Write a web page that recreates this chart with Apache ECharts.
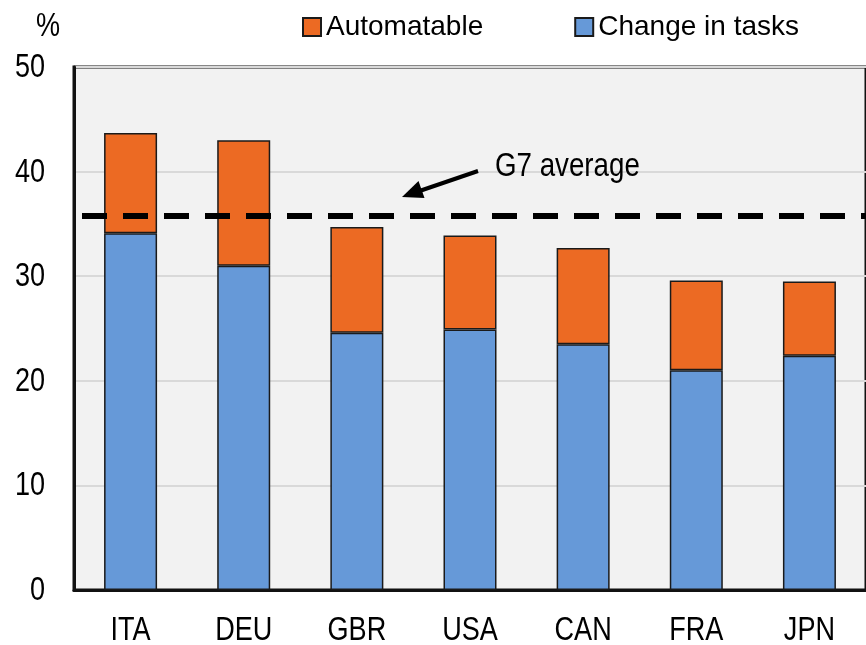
<!DOCTYPE html>
<html>
<head>
<meta charset="utf-8">
<script src="https://cdn.jsdelivr.net/npm/echarts@6/dist/echarts.min.js"></script>
<style>
html,body{margin:0;padding:0;background:#fff;}
#chart{width:866px;height:645px;}
</style>
</head>
<body>
<div id="chart"></div>
<script>
const categories = ['ITA', 'DEU', 'GBR', 'USA', 'CAN', 'FRA', 'JPN'];
const changeInTasks = [34.1, 31.0, 24.6, 24.9, 23.5, 21.0, 22.4];
const automatable = [9.6, 12.0, 10.1, 9.0, 9.2, 8.6, 7.1];
const g7Average = 35.8;
const yTicks = [0, 10, 20, 30, 40, 50];
const seriesNames = ['Automatable', 'Change in tasks'];
const unitLabel = '%';
const annotationText = 'G7 average';

const FONT = '"Liberation Sans", Arial, sans-serif';
const NARROW = 0.82;   // reference uses a condensed face
const chart = echarts.init(document.getElementById('chart'), null, {renderer: 'canvas'});

const option = {
  animation: false,
  backgroundColor: '#ffffff',
  textStyle: {fontFamily: FONT},
  legend: {
    data: seriesNames,
    left: 297,
    top: 8,
    itemWidth: 18,
    itemHeight: 18,
    itemGap: 91,
    icon: 'rect',
    textStyle: {fontFamily: FONT, fontSize: 28, color: '#000'}
  },
  grid: {
    left: 74,
    top: 67,
    right: -10,
    bottom: 55,
    show: true,
    backgroundColor: '#f2f2f2',
    borderColor: '#111',
    borderWidth: 3
  },
  xAxis: {
    type: 'category',
    data: categories,
    axisLine: {show: true, lineStyle: {color: '#111', width: 3}},
    axisTick: {show: false},
    axisLabel: {show: false}
  },
  yAxis: {
    type: 'value',
    min: yTicks[0],
    max: yTicks[yTicks.length - 1],
    interval: 10,
    axisLine: {show: true, lineStyle: {color: '#111', width: 3}},
    axisTick: {show: false},
    axisLabel: {show: false},
    splitLine: {show: true, lineStyle: {color: '#d9d9d9', width: 2}}
  },
  series: [
    {
      name: seriesNames[1],
      type: 'bar',
      stack: 'total',
      data: changeInTasks,
      barWidth: 53,
      itemStyle: {color: '#6699d8', borderColor: '#1a1a1a', borderWidth: 1.5}
    },
    {
      name: seriesNames[0],
      type: 'bar',
      stack: 'total',
      data: automatable,
      barWidth: 53,
      itemStyle: {color: '#ec6a23', borderColor: '#1a1a1a', borderWidth: 1.5},
      markLine: {
        silent: true,
        symbol: ['none', 'none'],
        label: {show: false},
        lineStyle: {color: '#000', width: 6, type: [25, 16], dashOffset: 33},
        data: [{yAxis: g7Average}],
        z: 10
      }
    }
  ]
};
chart.setOption(option);

// Condensed text labels placed through the chart's own axis conversion
function narrowText(text, x, y, align, vAlign) {
  return {
    type: 'text',
    x: x, y: y,
    scaleX: NARROW,
    z: 100,
    style: {
      text: text,
      font: '33px ' + FONT,
      fill: '#000',
      align: align,
      verticalAlign: vAlign
    }
  };
}
const gfx = [];
yTicks.forEach(function (v) {
  const py = chart.convertToPixel({yAxisIndex: 0}, v);
  gfx.push(narrowText(String(v), 45, py + 1, 'right', 'middle'));
});
categories.forEach(function (c) {
  const px = chart.convertToPixel({xAxisIndex: 0}, c);
  gfx.push(narrowText(c, px, 631, 'center', 'middle'));
});
gfx.push(narrowText(unitLabel, 48, 27, 'center', 'middle'));
gfx.push(Object.assign(narrowText(annotationText, 495, 167, 'left', 'middle'), {scaleX: 0.84}));
gfx.push({
  type: 'line',
  shape: {x1: 478, y1: 171, x2: 418, y2: 191.5},
  style: {stroke: '#000', lineWidth: 4}
});
gfx.push({
  type: 'polygon',
  shape: {points: [[402, 197], [424.5, 198], [418.5, 181]]},
  style: {fill: '#000'}
});
chart.setOption({graphic: gfx});
</script>
</body>
</html>
